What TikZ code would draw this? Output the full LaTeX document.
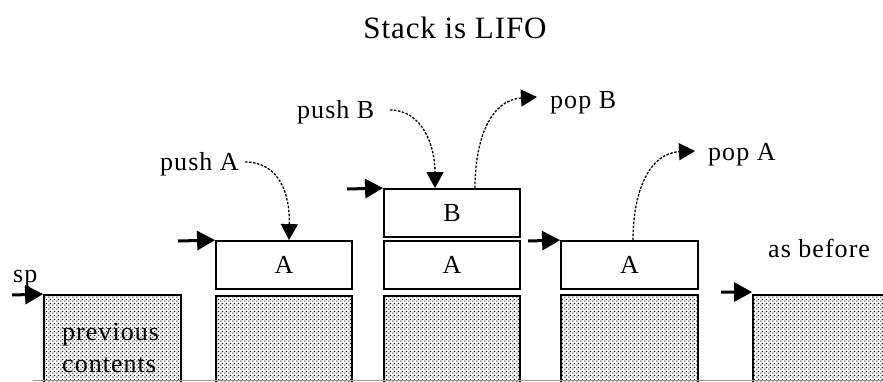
\documentclass[tikz,border=0pt]{standalone}
\usepackage{fontspec}
\setmainfont{Liberation Serif}
\usetikzlibrary{arrows.meta,patterns.meta}
\pgfdeclarepattern{
  name=stackdots,
  type=uncolored,
  bottom left={\pgfpointorigin},
  top right={\pgfpoint{4pt}{4pt}},
  tile size={\pgfpoint{4pt}{4pt}},
  code={
    \pgfpathrectangle{\pgfpoint{0.4pt}{0.4pt}}{\pgfpoint{1.4pt}{1.4pt}}
    \pgfpathrectangle{\pgfpoint{2.4pt}{2.4pt}}{\pgfpoint{1.4pt}{1.4pt}}
    \pgfusepath{fill}
  }
}
\begin{document}
\begin{tikzpicture}[x=1pt,y=-1pt,
  lbl/.style={inner sep=0pt, anchor=base west, font=\fontsize{26}{30}\selectfont\addfontfeature{LetterSpace=4}},
  cell/.style={draw, line width=1.8pt, minimum width=136pt, minimum height=48pt, inner sep=0pt,
               font=\fontsize{26}{30}\selectfont},
  oldstack/.style={draw, line width=1.8pt, pattern={stackdots}, pattern color=black, inner sep=0pt,
               minimum height=95pt},
  ptr/.style={line width=3pt, -{Triangle[length=18pt 0,width=19pt 0]}},
  flow/.style={line width=1.3pt, dash pattern=on 2.5pt off 1.5pt, -{Triangle[length=16pt 0,width=17pt 0]}}
]
\useasboundingbox (0,0) rectangle (883,381);
\fill[white] (0,0) rectangle (883,381);

% title
\node[inner sep=0pt, anchor=base, font=\fontsize{31}{34}\selectfont\addfontfeature{LetterSpace=3}] (title) at (455,38) {Stack is LIFO};

% dotted (previous contents) columns
\node[oldstack, minimum width=137pt] (d1) at (112.5,342.5) {};
\node[oldstack, minimum width=136pt] (d2) at (284,343.5) {};
\node[oldstack, minimum width=136pt] (d3) at (452,343.5) {};
\node[oldstack, minimum width=137pt] (d4) at (629.5,342.5) {};
\node[oldstack, minimum width=140pt] (d5) at (823,342.5) {};

\node[lbl] (prev) at (62,340) {previous};
\node[lbl] (cont) at (62,372) {contents};

% stack cells
\node[cell] (a2) at (284,265) {A};
\node[cell] (b3) at (452,213) {B};
\node[cell] (a3) at (452,265) {A};
\node[cell, minimum width=137pt] (a4) at (629.5,265) {A};

% labels
\node[lbl] (sp) at (13,282) {sp};
\node[lbl] (pushA) at (160,170) {push A};
\node[lbl] (pushB) at (297,118) {push B};
\node[lbl] (popB) at (550,108) {pop B};
\node[lbl] (popA) at (708,160) {pop A};
\node[lbl] (asb) at (768,257) {as before};

% stack pointer arrows
\coordinate (s1) at (12,295);
\coordinate (s2) at (178,241);
\coordinate (s3) at (347,189);
\coordinate (s4) at (528,241);
\coordinate (s5) at (721,292);
\draw[ptr] (s1) -- (d1.north west);
\draw[ptr] (s2) -- (a2.north west);
\draw[ptr] (s3) -- (b3.north west);
\draw[ptr] (s4) -- (a4.north west);
\draw[ptr] (s5) -- ([yshift=2pt]d5.north west);

% push / pop curves
\coordinate (pAs) at (245,162);
\coordinate (pBs) at (390,110);
\coordinate (oBe) at (537,97);
\coordinate (oAe) at (695,151);
\draw[flow] (pAs) .. controls (280,162) and (290,195) .. ([xshift=5pt]a2.north);
\draw[flow] (pBs) .. controls (422,110) and (435,145) .. ([xshift=-17pt]b3.north);
\draw[flow] ([xshift=23pt]b3.north) .. controls (475,140) and (490,100) .. (oBe);
\draw[flow] ([xshift=3.5pt]a4.north) .. controls (633,190) and (650,153) .. (oAe);

% baseline
\draw[black!40, line width=1pt] (33,380.5) -- (883,380.5);
\end{tikzpicture}
\end{document}
